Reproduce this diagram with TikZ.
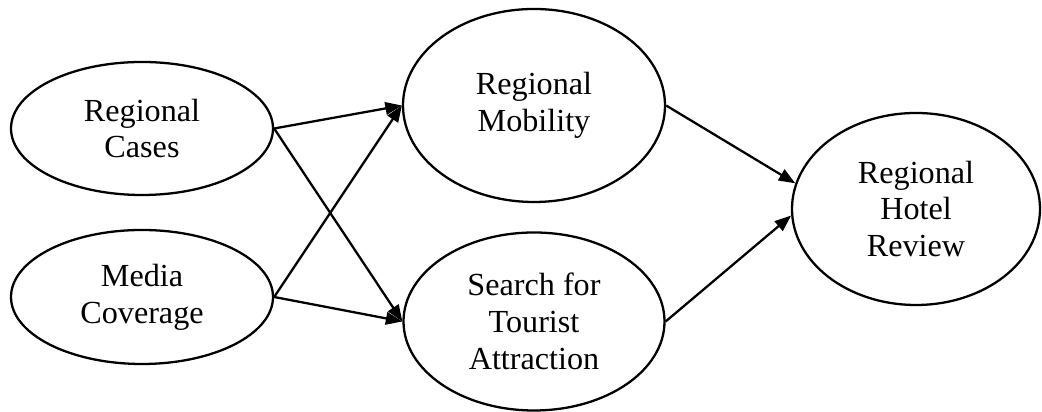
\documentclass[tikz,border=0pt]{standalone}
\usepackage{fontspec}
\setmainfont{Liberation Serif}
\usetikzlibrary{shapes.geometric,arrows.meta}

\tikzset{
	var/.style={ellipse, draw, line width=1.3pt, inner sep=0pt, align=center,
		font=\fontsize{18.3}{21}\selectfont},
	link/.style={line width=1.3pt, -{Triangle[length=3.3mm,width=2.5mm]}}
}

\begin{document}
\begin{tikzpicture}
		\useasboundingbox (0,0) rectangle (20.84,8.24);
		% sources
		\node[var, minimum width=5.24cm, minimum height=2.66cm] (cases) at (2.84,5.67) {Regional\\Cases};
		\node[var, minimum width=5.24cm, minimum height=2.68cm] (media) at (2.84,2.30) {Media\\Coverage};
		% mediators
		\node[var, minimum width=5.24cm, minimum height=3.86cm] (mobility) at (10.68,6.13) {Regional\\Mobility};
		\node[var, minimum width=5.22cm, minimum height=3.56cm] (search) at (10.68,1.81) {Search for\\Tourist\\Attraction};
		% outcome
		\node[var, minimum width=4.96cm, minimum height=3.84cm] (hotel) at (18.32,4.06) {Regional\\Hotel\\Review};
		\foreach \a/\b in {cases/mobility, cases/search, media/mobility, media/search} {
			\draw[link] (\a.east) -- (\b.west);
		}
		\draw[link] (mobility.east) -- (hotel.168);
		\draw[link] (search.east) -- (hotel.183);
	\end{tikzpicture}
\end{document}
